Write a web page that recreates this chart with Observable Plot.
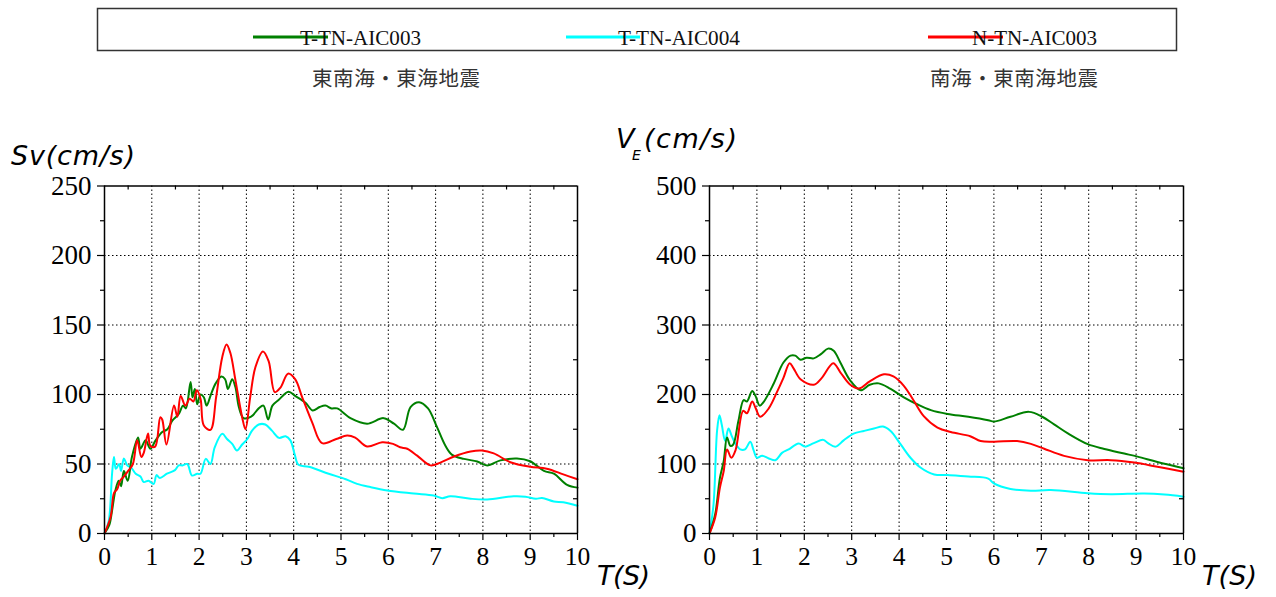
<!DOCTYPE html>
<html><head><meta charset="utf-8">
<script src="https://cdn.jsdelivr.net/npm/d3@7"></script>
<script src="https://cdn.jsdelivr.net/npm/@observablehq/plot@0.6"></script>
<style>
body{margin:0;background:#fff;}
#page{position:relative;width:1276px;height:597px;overflow:hidden;background:#fff;}
#left,#right{position:absolute;top:140px;}
#left{left:0;} #right{left:610px;}
#left svg text, #right svg text{font-family:'Liberation Serif','Times New Roman',serif !important;}
#overlay{position:absolute;left:0;top:0;pointer-events:none;}
</style></head><body>
<div id="page"><div id="left"></div><div id="right"></div>
<svg id="overlay" width="1276" height="597"></svg></div>
<script>
// ---- Series names / colours ----
const SERIES_NAMES = ["T-TN-AIC003", "T-TN-AIC004", "N-TN-AIC003"];
const SERIES_COLORS = ["#008000", "#00ffff", "#ff0000"];
const SUBTITLES = ["東南海・東海地震", "南海・東南海地震"];

// ---- Ticks ----
const X_TICKS = [0,1,2,3,4,5,6,7,8,9,10];
const X_MINOR = [0.5,1.5,2.5,3.5,4.5,5.5,6.5,7.5,8.5,9.5];
const X_GRID = [1,2,3,4,5,6,7,8,9];
const LEFT_Y_TICKS = [0,50,100,150,200,250];
const LEFT_Y_MINOR = [25,75,125,175,225];
const LEFT_Y_GRID = [50,100,150,200];
const RIGHT_Y_TICKS = [0,100,200,300,400,500];
const RIGHT_Y_MINOR = [50,150,250,350,450];
const RIGHT_Y_GRID = [100,200,300,400];

// ---- Left chart: Sv (東南海・東海地震) ----
const L_T_TN_AIC003_T = [0,0.1,0.16,0.23,0.3,0.35,0.41,0.49,0.58,0.71,0.76,0.87,0.97,1.08,1.22,1.33,1.43,1.57,1.66,1.72,1.82,1.86,1.91,1.96,2.03,2.1,2.16,2.24,2.35,2.47,2.55,2.61,2.7,2.77,2.84,2.94,3.1,3.26,3.36,3.46,3.55,3.68,3.89,4.03,4.25,4.4,4.55,4.67,4.8,4.92,5.2,5.55,5.9,6.12,6.31,6.47,6.65,6.84,7.03,7.21,7.35,7.6,7.88,8.09,8.37,8.72,9.0,9.29,9.5,9.78,10];
const L_T_TN_AIC003_V = [0,6,16.5,31,38,34,45,38,55,69,61,67,61,67,73,75,81,86,92,90,109,98,104,93,100,98,92,99,108,113,111,104,111,105,91,83,84,90,92,82,92,96,102,99,94,88.5,91,92,90,90,83,79,83,79,74.6,91,94.5,90,76.5,63,56.6,53.7,51.8,49,52.6,54,52,45,43,35,33];

const L_T_TN_AIC004_T = [0,0.09,0.16,0.2,0.24,0.31,0.35,0.41,0.48,0.56,0.66,0.76,0.83,0.93,1.04,1.1,1.17,1.32,1.49,1.57,1.65,1.75,1.85,1.96,2.03,2.14,2.24,2.33,2.49,2.59,2.7,2.8,2.91,3.02,3.12,3.26,3.4,3.54,3.69,3.83,3.93,4.02,4.1,4.32,4.74,5.1,5.34,5.62,5.98,6.54,6.96,7.14,7.31,7.74,8.09,8.65,8.9,9.12,9.25,9.5,9.7,10];
const L_T_TN_AIC004_V = [0,9,43,55,46.5,50,45,54,49,47.5,43,41,37,38,35.7,42,40,43,45.6,49,49,50,41.7,43,43,53.7,50,62,71.7,68,64.5,59.7,64,68,74,78.4,78.4,74,68.8,70,67,57,49.4,48,43,39,35.7,33.4,31,28.8,27.3,25.4,26.8,25,24.5,26.8,26.5,25,25.5,23,22.5,20];

const L_N_TN_AIC003_T = [0,0.13,0.2,0.27,0.33,0.4,0.5,0.6,0.69,0.78,0.83,0.92,0.97,1.07,1.18,1.22,1.31,1.47,1.54,1.61,1.71,1.8,1.88,1.95,2.03,2.1,2.24,2.36,2.49,2.58,2.66,2.77,2.91,2.98,3.08,3.19,3.35,3.47,3.6,3.72,3.88,4.03,4.18,4.39,4.6,4.9,5.13,5.3,5.55,5.87,6.1,6.25,6.4,6.61,6.89,7.1,7.39,7.74,7.98,8.23,8.58,9.0,9.35,9.7,10];
const L_N_TN_AIC003_V = [0,12,29,32,38,40.5,45,50,67,55,58,72,63,62.5,83.7,82,64,92,84,99,92,97,95,103,97,77.7,74.6,98,127,136,130,110,83.7,75,98,119.6,131,124,101.7,105,115,111,98,80,65,68,70.5,69,62.6,65.7,64.5,62,61,56,49,51,55.4,59,59.7,57.6,51.3,48,46.6,42.5,39];

// ---- Right chart: V_E (南海・東南海地震) ----
const R_T_TN_AIC003_T = [0,0.12,0.22,0.3,0.37,0.44,0.5,0.61,0.72,0.79,0.9,0.97,1.06,1.14,1.35,1.56,1.71,1.81,1.92,2.05,2.2,2.35,2.5,2.62,2.76,2.97,3.19,3.38,3.57,3.82,4.1,4.38,4.67,5.02,5.46,5.88,6.0,6.35,6.74,7.02,7.27,7.56,7.98,8.33,8.75,9.03,9.45,10];
const R_T_TN_AIC003_V = [0,27.6,80,104,138,126,128,162,192,190,205,198,184,189,215,246,256,256,250,253,252,258,266,263,246,220,206,214,216,208,196,186,177.5,172,168,163,161,168,175,168,157,144,128.5,121.6,115,110.6,103,94];

const R_T_TN_AIC004_T = [0,0.085,0.16,0.21,0.26,0.33,0.4,0.47,0.54,0.65,0.75,0.86,0.93,1.0,1.11,1.25,1.39,1.53,1.67,1.88,2.02,2.2,2.4,2.5,2.66,2.83,3.04,3.26,3.47,3.66,3.82,4.03,4.24,4.45,4.74,5.02,5.46,5.88,6.0,6.35,6.78,7.2,7.98,8.47,9.17,9.6,10];
const R_T_TN_AIC004_V = [0,42,148,170,156,133,151,140,130,121,121,132,120,109,112,108,105.5,116,121,129.4,125,130,134.7,130,125,134,143.8,147.6,151,154,147.6,128.5,109,95,85,84,82,79,72,64,61.6,62.5,58,56.6,57.5,56,53];

const R_N_TN_AIC003_T = [0,0.12,0.22,0.3,0.37,0.46,0.55,0.71,0.79,0.9,0.97,1.07,1.25,1.42,1.56,1.69,1.77,1.92,2.2,2.37,2.61,2.76,2.97,3.15,3.38,3.68,3.88,4.1,4.31,4.52,4.81,5.09,5.5,5.72,6,6.49,6.78,7.06,7.48,7.98,8.47,8.96,9.45,10];
const R_N_TN_AIC003_V = [0,23,66,90,121,109,120,176.5,173,190,181,168,180,203,224,245,238,222,214,224,245,232,214,208.6,219,229,226,212.5,191,169,152.5,146,140,133,132,133,129,122,111.7,105.5,105.5,102,96,89];

function zip(ts, vs){ return ts.map((t,i)=>({t, v: vs[i]})); }

const LEFT_SERIES = [
  zip(L_T_TN_AIC003_T, L_T_TN_AIC003_V),
  zip(L_T_TN_AIC004_T, L_T_TN_AIC004_V),
  zip(L_N_TN_AIC003_T, L_N_TN_AIC003_V)
];
const RIGHT_SERIES = [
  zip(R_T_TN_AIC003_T, R_T_TN_AIC003_V),
  zip(R_T_TN_AIC004_T, R_T_TN_AIC004_V),
  zip(R_N_TN_AIC003_T, R_N_TN_AIC003_V)
];

const H = 457, MT = 45.5, MB = 64;
const SERIF = "'Liberation Serif','Times New Roman',serif";

function chart(series, yTicks, yMinor, yGrid, width, mL, mR){
  const yMax = yTicks[yTicks.length-1];
  const innerH = H - MT - MB;
  const innerW = width - mL - mR;
  const dy = 4 * yMax / innerH;
  const dx = 4 * 10 / innerW;
  const lineMarks = [1,0,2].map(i => Plot.line(series[i], {x:"t", y:"v", stroke: SERIES_COLORS[i], strokeWidth: 2, curve: "catmull-rom"}));
  return Plot.plot({
    width, height: H, marginLeft: mL, marginRight: mR, marginTop: MT, marginBottom: MB,
    x: {domain: [0,10]}, y: {domain: [0, yMax]},
    style: {fontFamily: SERIF, fontSize: "25px", color: "black", background: "transparent", overflow: "visible"},
    marks: [
      Plot.gridX(X_GRID, {stroke: "black", strokeOpacity: 1, strokeWidth: 1, strokeDasharray: "1.5,2.5"}),
      Plot.gridY(yGrid, {stroke: "black", strokeOpacity: 1, strokeWidth: 1, strokeDasharray: "1.5,2.5"}),
      ...lineMarks,
      Plot.ruleX([0, 10], {stroke: "black", strokeWidth: 1.5}),
      Plot.ruleY([0, yMax], {stroke: "black", strokeWidth: 1.5}),
      Plot.axisX(X_TICKS, {tickSize: 7, tickPadding: 6, label: null, strokeWidth: 1.2, fontFamily: SERIF, fontSize: 25.5}),
      Plot.axisX(X_MINOR, {tickSize: 4, text: null, label: null, strokeWidth: 1.2}),
      Plot.axisY(yTicks, {tickSize: 7, tickPadding: 6, label: null, strokeWidth: 1.2, fontFamily: SERIF, fontSize: 27}),
      Plot.axisY(yMinor, {tickSize: 4, text: null, label: null, strokeWidth: 1.2}),
      Plot.ruleX(X_MINOR, {x: d => d, y1: yMax, y2: yMax - dy, strokeWidth: 1.2}),
      Plot.ruleY(yMinor, {y: d => d, x1: 10, x2: 10 - dx, strokeWidth: 1.2})
    ]
  });
}

document.getElementById("left").append(chart(LEFT_SERIES, LEFT_Y_TICKS, LEFT_Y_MINOR, LEFT_Y_GRID, 660, 104, 83));
document.getElementById("right").append(chart(RIGHT_SERIES, RIGHT_Y_TICKS, RIGHT_Y_MINOR, RIGHT_Y_GRID, 666, 99, 93));

// ---- Overlay: legend, subtitles, axis titles ----
const svg = d3.select("#overlay");
svg.append("rect").attr("x", 97.5).attr("y", 8.5).attr("width", 1079).attr("height", 42)
  .attr("fill", "none").attr("stroke", "#333").attr("stroke-width", 1.5);
const LEG_LINE = [[253,328],[566,640],[928,1003]];
const LEG_TEXT_X = [300, 618, 972];
const LEG_TEXT_LEN = [121, 122, 125];
SERIES_NAMES.forEach((n, i) => {
  svg.append("line").attr("x1", LEG_LINE[i][0]).attr("x2", LEG_LINE[i][1]).attr("y1", 37).attr("y2", 37)
    .attr("stroke", SERIES_COLORS[i]).attr("stroke-width", 3);
  svg.append("text").attr("x", LEG_TEXT_X[i]).attr("y", 45).text(n)
    .attr("font-family", SERIF).attr("font-size", 20.5).attr("fill", "#111")
    .attr("textLength", LEG_TEXT_LEN[i]).attr("lengthAdjust", "spacingAndGlyphs");
});
const SUB_X = [312, 930];
SUBTITLES.forEach((s, i) => {
  svg.append("text").attr("x", SUB_X[i]).attr("y", 86).text(s)
    .attr("font-family", "'Noto Sans CJK JP','Noto Sans CJK SC',sans-serif").attr("font-size", 20.5)
    .attr("fill", "#333").attr("textLength", 168).attr("lengthAdjust", "spacing");
});
const ital = {"font-family": "'DejaVu Sans',sans-serif", "font-style": "italic", "font-size": 27, "fill": "#000"};
function t(x, y, s, len, extra){
  const e = svg.append("text").attr("x", x).attr("y", y).text(s);
  Object.entries(Object.assign({}, ital, extra||{})).forEach(([k,v]) => e.attr(k, v));
  if (len) e.attr("textLength", len).attr("lengthAdjust", "spacing");
  return e;
}
t(11, 165, "Sv(cm/s)", 124);
t(597, 585, "T(S)", 53);
t(1202, 585, "T(S)", 55);
t(616, 148, "V", null);
t(632, 160, "E", null, {"font-size": 14});
t(644, 148, "(cm/s)", 93);
</script></body></html>
